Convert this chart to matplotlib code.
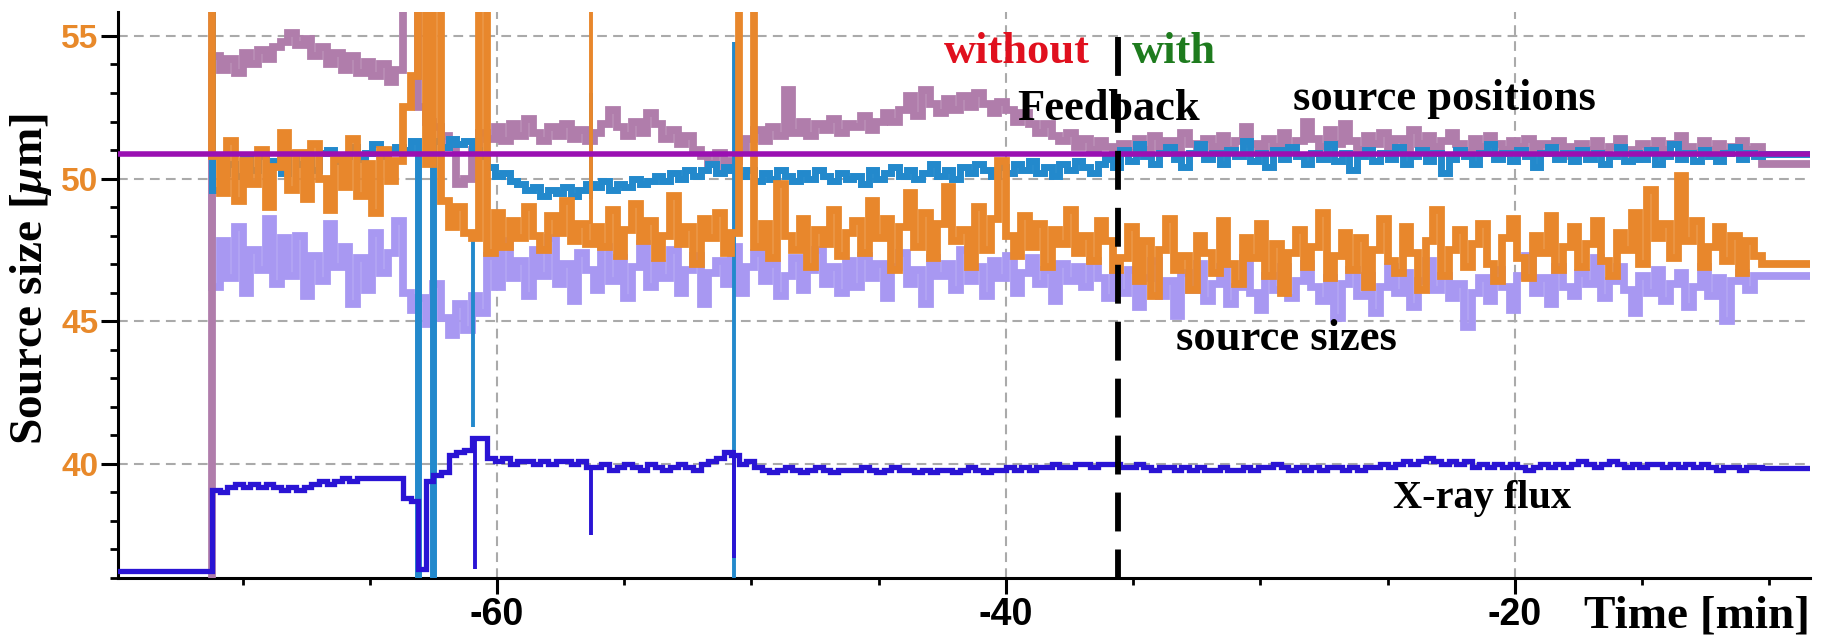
import numpy as np
import matplotlib
matplotlib.use('Agg')
import matplotlib.pyplot as plt

plt.rcParams['font.family'] = ['Liberation Serif', 'DejaVu Serif']
plt.rcParams['mathtext.fontset'] = 'custom'
plt.rcParams['mathtext.it'] = 'Liberation Serif:italic:bold'
plt.rcParams['mathtext.rm'] = 'Liberation Serif:bold'
plt.rcParams['mathtext.bf'] = 'Liberation Serif:bold'
plt.rcParams['lines.scale_dashes'] = False

# ---------------- data ----------------
T0 = -71.2          # first sample [min]
DT = 0.3            # sampling step [min]

mauve_pos = [54.3, 53.8, 54.2, 53.7, 54.4, 54.0, 54.5, 54.2, 54.6, 54.8,
             55.1, 54.7, 54.9,
             54.3, 54.6, 54.0, 54.4, 53.8, 54.3, 53.7,
             54.1, 53.6, 54.0, 53.4, 53.8,
             58.0, 57.0, 52.5, 52.0, 51.8, 51.5, 51.2, 49.8, 50.0, 51.0, 51.6,
             51.4, 51.8, 51.3, 51.9, 51.5, 52.1, 51.6, 51.3, 51.8, 51.5, 51.9, 51.4, 51.7, 51.3,
             51.6, 51.9, 52.4, 51.8, 51.5, 52.0, 51.6, 52.3, 51.9, 51.4, 51.7, 51.2, 51.5, 51.0,
             50.8, 50.5, 50.9, 50.3, 50.6,
             51.0, 51.4, 51.7, 51.3, 51.8, 51.5,
             53.1,
             51.6, 52.0, 51.5, 51.9, 51.7, 52.1, 51.6, 51.9,
             51.8, 52.2, 51.7, 52.0, 52.3, 52.0,
             52.4, 52.9, 52.2, 53.1, 52.6, 52.3, 52.8, 52.4, 52.9, 52.5, 53.0, 52.6, 52.3, 52.7,
             52.4, 52.0, 52.3, 51.9, 51.6, 51.9, 51.5,
             51.3, 51.6, 51.1, 51.4, 51.0, 51.3, 51.1, 50.8,
             51.2, 50.9, 51.4, 51.0, 51.5, 51.1, 51.3, 50.9, 51.6, 51.2, 51.0, 51.4,
             51.1, 51.5, 51.0, 51.3, 51.8, 51.2, 50.9, 51.4, 51.1, 51.6, 51.0, 51.3,
             52.0, 51.4, 51.1, 51.7, 51.2, 51.9, 51.3, 51.0, 51.5, 51.2, 51.6, 51.1,
             51.4, 51.0, 51.7, 51.2, 51.5, 51.1, 51.3, 51.6, 51.2, 50.9, 51.4, 51.1,
             51.5, 51.2, 51.0, 51.3, 51.1, 51.4, 50.9, 51.2, 51.0, 51.3, 51.1, 50.8,
             51.2, 51.0, 51.3, 50.9, 51.1, 51.4, 51.0, 50.7, 51.2, 51.0, 51.3, 51.0,
             51.2, 51.5, 51.1, 50.9, 51.3, 51.0, 51.2, 50.9, 51.1, 51.3, 51.0, 51.1]

orange_size = [50.8, 49.5, 51.3, 49.2, 50.6, 49.8, 51.0, 49.0, 50.4, 51.6, 49.6, 50.9, 49.3,
               51.2, 50.0, 48.9, 50.7, 49.7, 51.4, 49.4, 50.5, 48.8, 51.0, 49.9, 50.6,
               52.5, 53.6, 60.0, 50.5, 60.0, 49.2, 48.3, 49.0, 48.1, 47.9, 60.0,
               47.4, 48.8, 47.6, 48.5, 47.9, 49.0, 48.0, 47.5, 48.7, 48.1, 49.2, 47.8, 48.4, 47.7,
               48.3, 47.6, 48.9, 47.3, 48.2, 49.1, 47.8, 48.5, 47.2, 48.0, 49.4, 47.7, 48.3, 47.0,
               48.6, 47.9, 48.8, 47.4, 48.1,
               60.0, 60.0,
               47.6, 48.4, 47.2, 49.8, 48.0, 47.5, 48.6, 46.9, 48.2, 47.7, 48.9, 47.3, 48.1,
               48.5, 47.4, 49.2, 47.9, 48.6, 46.8, 48.3, 49.5, 47.6, 48.8, 47.2, 48.4, 49.7, 47.8,
               48.2, 46.9, 49.0, 47.5, 48.6, 50.6,
               48.0, 47.3, 48.7, 47.6, 48.4, 46.9, 48.2, 47.7, 48.9, 47.4, 48.0, 47.1, 48.5, 47.8, 46.8,
               47.2, 48.3, 46.4, 47.8, 45.9, 47.5, 48.6, 46.8, 47.3, 46.1, 48.0, 47.4,
               46.7, 48.5, 47.0, 46.3, 47.9, 47.2, 48.4, 46.6, 47.7, 46.0, 47.4, 48.2,
               46.9, 47.6, 48.8, 46.5, 47.3, 48.1, 46.8, 47.9, 46.2, 47.5, 48.6, 47.1,
               46.7, 48.3, 47.4, 46.1, 47.8, 48.9, 46.6, 47.5, 48.2, 46.9, 47.7, 48.4,
               47.0, 46.4, 47.9, 48.6, 47.2, 46.5, 48.0, 47.4, 48.7, 46.8, 47.6, 48.3,
               46.9, 47.7, 48.5, 47.1, 46.6, 48.1, 47.5, 48.8, 47.0, 49.6, 47.9, 48.4,
               47.2, 50.1, 47.8, 48.5, 46.9, 47.6, 48.3, 47.1, 48.0, 46.7, 47.8, 47.3]

lavender_size = [46.2, 47.8, 46.5, 48.3, 46.0, 47.5, 46.8, 48.6, 46.3, 47.9, 46.6, 48.0, 45.9,
                 47.3, 46.4, 48.4, 46.9, 47.6, 45.6, 47.2, 46.1, 48.1, 46.7, 47.4, 48.5,
                 46.0, 45.4, 45.8, 44.9, 46.3, 45.1, 44.5, 45.6, 44.7, 45.9, 45.3,
                 47.3, 46.2, 47.8, 46.5, 47.1, 45.9, 47.5, 46.6, 47.9, 46.3, 47.0, 45.7,
                 47.4, 46.8, 46.1, 47.6, 46.4, 47.2, 45.8, 46.9, 47.7, 46.2, 47.0, 46.5,
                 47.5, 46.0, 46.8, 47.3, 45.6, 46.7, 47.1, 46.3, 47.6, 46.0, 46.9, 47.4,
                 46.4, 47.0, 45.9, 46.6, 47.2, 46.1, 46.8, 47.5, 46.3, 46.9, 46.0, 47.1,
                 46.2, 47.3, 46.5, 47.0, 45.8, 46.9, 47.4, 46.3, 46.8, 45.6, 47.2, 46.6,
                 47.0, 46.1, 47.5, 46.4, 46.9, 45.9, 47.1, 46.5, 47.3, 46.0, 46.7, 47.2,
                 46.3, 46.8, 45.7, 47.0, 46.4, 46.9, 46.2, 47.1, 46.5, 45.8, 46.6,
                 46.0, 46.8, 45.5, 46.5, 47.1, 45.9, 46.4, 45.2, 46.7, 46.1, 47.0, 45.7,
                 46.3, 46.9, 45.6, 46.2, 47.2, 46.0, 45.4, 46.6, 46.1, 46.9, 45.8, 46.4,
                 47.0, 46.2, 45.7, 46.5, 45.1, 46.3, 46.8, 45.9, 46.6, 45.3, 46.2, 46.9,
                 46.0, 46.7, 45.5, 46.4, 47.1, 46.1, 46.6, 45.8, 46.3, 44.8, 46.0, 46.5,
                 45.7, 46.8, 46.2, 45.4, 46.6, 47.3, 46.0, 46.5, 45.6, 46.9, 46.2, 45.9,
                 46.7, 46.3, 47.2, 45.8, 46.4, 46.9, 46.1, 45.3, 46.6, 46.0, 46.8, 45.7,
                 46.3, 46.7, 45.5, 46.2, 46.9, 45.9, 46.5, 45.0, 46.4, 46.7, 46.1, 46.6]

blue_pos = [49.6, 50.2, 50.5, 50.1, 50.7, 50.3, 50.8, 50.4, 50.6, 50.2, 50.9, 50.5, 50.7,
            50.3, 50.9, 51.0, 50.6, 50.8, 51.1, 50.7, 50.9, 51.2, 50.8, 51.0, 51.1,
            51.0, 51.3, 30.0, 30.0, 51.3, 51.1, 51.4, 51.2, 51.3, 51.0, 50.8,
            50.4, 50.1, 50.2, 49.9, 49.8, 49.6, 49.7, 49.4, 49.6, 49.5, 49.7, 49.4, 49.6, 49.8,
            49.7, 49.9, 49.6, 49.8, 49.7, 50.0, 49.8, 49.9, 50.1, 49.9, 50.2, 50.0, 50.3, 50.1,
            50.3, 50.5, 50.2, 50.4, 50.3,
            50.1, 50.3, 49.9, 50.2, 50.0, 50.3, 50.1, 49.9, 50.2, 50.0, 50.3, 50.1, 49.9, 50.2, 50.0,
            50.1, 49.8, 50.3, 50.0, 50.2, 50.4, 50.1, 50.3, 50.0, 50.2,
            50.5, 50.1, 50.3, 50.0, 50.4, 50.2, 50.5, 50.3, 50.1, 50.4,
            50.2, 50.5, 50.3, 50.6, 50.2, 50.4, 50.1, 50.5, 50.3, 50.6,
            50.4, 50.2, 50.5, 50.7, 50.4,
            51.0, 50.6, 51.2, 50.8, 50.5, 50.9, 51.1, 50.7, 50.4, 50.9, 51.2, 50.7,
            50.9, 50.5, 51.0, 50.8, 51.3, 50.6, 50.9, 50.4, 51.0, 50.7, 51.1, 50.8,
            50.5, 50.9, 50.7, 51.2, 50.6, 50.9, 50.3, 50.8, 51.0, 50.6, 50.9, 50.7,
            51.1, 50.5, 50.8, 51.0, 50.6, 50.9, 50.2, 50.7, 51.0, 50.8, 50.5, 50.9,
            51.2, 50.7, 50.9, 50.6, 51.0, 50.8, 50.4, 50.9, 51.1, 50.7, 50.9, 50.6,
            51.0, 50.7, 50.9, 50.5, 50.8, 51.1, 50.6, 50.9, 50.7, 51.0, 50.5, 50.8,
            51.2, 50.7, 50.9, 50.6, 51.0, 50.8, 50.6, 50.9, 51.1, 50.7, 50.9, 50.8]

xray_flux = [39.1, 39.0, 39.2, 39.3, 39.2, 39.3, 39.2, 39.3, 39.2, 39.1, 39.2, 39.1, 39.2,
             39.3, 39.4, 39.3, 39.4, 39.5, 39.4, 39.5, 39.5, 39.5, 39.5, 39.5, 39.5,
             38.8, 38.7, 36.3, 39.4, 39.6, 39.7, 40.3, 40.4, 40.5, 40.9, 40.9,
             40.2, 40.1, 40.2, 40.0, 40.1, 40.1, 40.0, 40.1, 40.0, 40.1, 40.1, 40.0, 40.1, 39.9,
             39.9, 40.0, 39.8, 39.9, 40.0, 39.9, 39.8, 40.0, 39.9, 39.8, 39.9, 40.0, 39.9, 39.8,
             40.0, 40.1, 40.2, 40.4, 40.3,
             40.0, 40.1, 39.9, 39.8, 39.7, 39.8, 39.9, 39.8, 39.7, 39.8, 39.9, 39.8, 39.7, 39.8, 39.8,
             39.8, 39.9, 39.8, 39.7, 39.8, 39.9, 39.8, 39.8, 39.7, 39.8, 39.7, 39.8,
             39.8, 39.7, 39.8, 39.9, 39.8, 39.7, 39.8, 39.8, 39.9, 39.8, 39.9, 39.8,
             39.9, 39.9, 40.0, 39.9, 39.9, 40.0, 40.0, 39.9, 40.0, 40.0, 40.0, 39.9,
             39.9, 40.0, 39.9, 39.8, 39.9, 39.9, 39.8, 39.9, 39.8, 39.9, 39.8, 39.8,
             39.9, 39.8, 39.8, 39.9, 39.8, 39.9, 39.9, 40.0, 39.9, 39.8, 39.9, 39.8,
             39.9, 39.8, 39.9, 39.9, 39.8, 39.9, 39.8, 39.9, 39.9, 40.0, 39.9, 40.0,
             40.1, 40.0, 40.1, 40.2, 40.1, 40.0, 40.1, 40.0, 40.1, 39.9, 40.0, 39.9,
             40.0, 39.9, 40.0, 39.9, 39.8, 39.9, 40.0, 39.9, 40.0, 39.9, 40.0, 40.1,
             40.0, 39.9, 40.0, 40.1, 40.0, 39.9, 40.0, 39.9, 40.0, 40.0, 39.9, 40.0,
             39.9, 40.0, 39.9, 40.0, 39.9, 39.8, 39.9, 39.9, 39.8, 39.9, 39.9]

# values before the first sample / after the last sample
pre_start = {'mauve': -75.5, 'orange': -75.5, 'lavender': -73.2, 'blue': -75.5, 'flux': -75.5}
pre_value = {'mauve': 30.0, 'orange': 60.0, 'lavender': 55.97, 'blue': 60.0, 'flux': 36.25}
post_value = {'mauve': 50.5, 'orange': 47.0, 'lavender': 46.6, 'blue': 50.85, 'flux': 39.85}

# thin single-sample glitches: (time, low, high)
orange_glitch = [(-56.3, 48.4, 58.0)]
blue_glitch = [(-60.95, 41.3, 48.0), (-56.3, 49.3, 53.0), (-50.7, 36.0, 54.8)]
flux_glitch = [(-60.85, 36.3, 40.8), (-56.3, 37.5, 39.9), (-50.7, 36.7, 40.5)]

reference_level = 50.85     # purple horizontal line
feedback_time = -35.6

ytick_vals = [40, 45, 50, 55]
ytick_labels = ['40', '45', '50', '55']
xtick_vals = [-60, -40, -20]
xtick_labels = ['-60', '-40', '-20']
xminor = [-70, -65, -55, -50, -45, -35, -30, -25, -15, -10]
yminor = [36, 37, 38, 39, 41, 42, 43, 44, 46, 47, 48, 49, 51, 52, 53, 54]

XLIM = (-74.9, -8.4)
YLIM = (36.0, 55.84)

colors = {'mauve': '#B07DAB', 'orange': '#E8872C', 'lavender': '#A898F2',
          'blue': '#2389CC', 'flux': '#2A14D4'}
ref_color = '#9A10B2'

# ---------------- figure ----------------
fig = plt.figure(figsize=(18.26, 6.44), dpi=100)
ax = fig.add_axes([0.0646, 0.1025, 0.9266, 0.8789])


def build(key, vals):
    vals = np.asarray(vals, dtype=float)
    t = T0 + DT * np.arange(len(vals))
    x = np.concatenate([[pre_start[key]], t, [t[-1] + DT, XLIM[1] + 1.0]])
    y = np.concatenate([[pre_value[key]], vals, [post_value[key], post_value[key]]])
    return x, y


order = [('lavender', lavender_size, 2, 5.6), ('mauve', mauve_pos, 3, 5.6),
         ('blue', blue_pos, 4, 5.0), ('orange', orange_size, 5, 5.6),
         ('flux', xray_flux, 6, 3.8)]
for key, vals, z, lw in order:
    x, y = build(key, vals)
    ax.plot(x, y, drawstyle='steps-post', color=colors[key], lw=lw, zorder=z,
            solid_joinstyle='miter')

for key, gl, z in [('orange', orange_glitch, 5), ('blue', blue_glitch, 4.5), ('flux', flux_glitch, 6)]:
    ts = [g[0] for g in gl]
    lo = [g[1] for g in gl]
    hi = [g[2] for g in gl]
    ax.vlines(ts, lo, hi, colors=colors[key], lw=2.8, zorder=z)

ax.axhline(reference_level, color=ref_color, lw=4.0, zorder=7)

ax.plot([feedback_time, feedback_time], [54.95, YLIM[0]], color='black', lw=4.2,
        dashes=(28, 13), zorder=8, dash_capstyle='butt')

ax.set_xlim(*XLIM)
ax.set_ylim(*YLIM)

ax.set_yticks(ytick_vals, labels=ytick_labels, fontfamily=['Liberation Sans', 'DejaVu Sans'],
              fontweight='bold', fontsize=24, color='#E8892A')
ax.set_xticks(xtick_vals, labels=xtick_labels, fontfamily=['Liberation Sans', 'DejaVu Sans'],
              fontweight='bold', fontsize=27, color='black')
ax.set_xticks(xminor, minor=True)
ax.set_yticks(yminor, minor=True)

ax.tick_params(axis='y', which='major', length=12, width=2.2, direction='out', pad=2)
ax.tick_params(axis='y', which='minor', length=6, width=2.0, direction='out')
ax.tick_params(axis='x', which='major', length=11.5, width=2.2, direction='out', pad=2)
ax.tick_params(axis='x', which='minor', length=5, width=2.0, direction='out')

for s in ['top', 'right']:
    ax.spines[s].set_visible(False)
for s in ['left', 'bottom']:
    ax.spines[s].set_linewidth(2.2)

ax.grid(True, which='major', color='#AAAAAA', lw=1.5, linestyle=(0, (7, 4.5)))
ax.set_axisbelow(True)

bold_kw = dict(fontsize=32, fontweight='bold', zorder=10, va='baseline', ha='center')
ax.text(-39.57, 54.05, 'without', color='#E0101E', **bold_kw)
ax.text(-33.4, 54.05, 'with', color='#1E7B1E', **bold_kw)
ax.text(-35.95, 52.05, 'Feedback', color='black', **bold_kw)
ax.text(-22.75, 52.40, 'source positions', color='black', **bold_kw)
ax.text(-28.96, 44.0, 'source sizes', color='black', **bold_kw)
ax.text(-21.3, 38.46, 'X-ray flux', color='black', fontsize=29, fontweight='bold',
        zorder=10, va='baseline', ha='center')

fig.text(0.991, 0.026, 'Time [min]', fontsize=34, fontweight='bold', ha='right', va='baseline')
fig.text(0.017, 0.566, r'Source size [$\mu$m]', fontsize=34, fontweight='bold',
         rotation=90, ha='center', va='center')

fig.savefig('out.png', dpi=100, facecolor='white')
